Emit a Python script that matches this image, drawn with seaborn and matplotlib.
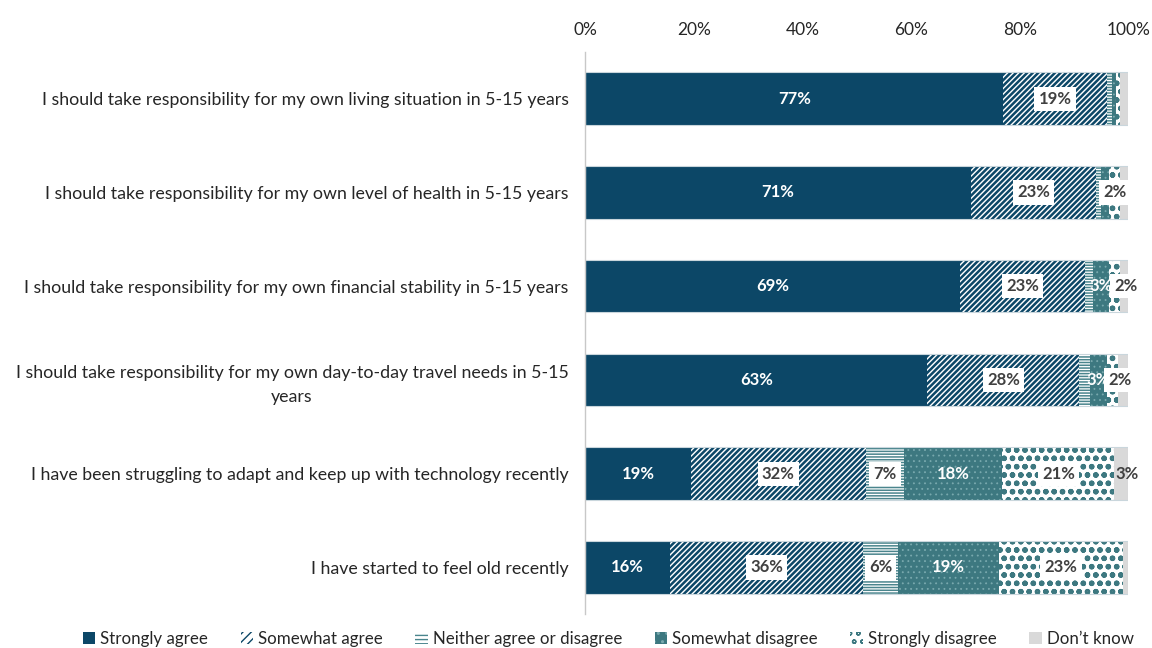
import matplotlib
matplotlib.use("Agg")
import matplotlib.pyplot as plt
import matplotlib.ticker as mticker
from matplotlib.patches import Patch
import numpy as np
import pandas as pd
import seaborn as sns

# ---- data -------------------------------------------------------------
statements = [
    "I should take responsibility for my own living situation in 5-15 years",
    "I should take responsibility for my own level of health in 5-15 years",
    "I should take responsibility for my own financial stability in 5-15 years",
    "I should take responsibility for my own day-to-day travel needs in 5-15\nyears",
    "I have been struggling to adapt and keep up with technology recently",
    "I have started to feel old recently",
]
responses = ["Strongly agree", "Somewhat agree", "Neither agree or disagree",
             "Somewhat disagree", "Strongly disagree", "Don\u2019t know"]

strongly_agree    = [77.0, 71.0, 69.0, 63.0, 19.4, 15.6]
somewhat_agree    = [19.0, 23.0, 23.0, 28.0, 32.3, 35.6]
neither           = [1.0, 1.0, 1.5, 2.0, 6.9, 6.3]
somewhat_disagree = [0.7, 1.5, 3.0, 3.0, 18.2, 18.6]
strongly_disagree = [0.8, 2.0, 2.0, 2.0, 20.6, 23.0]
dont_know         = [1.5, 1.5, 1.5, 2.0, 2.6, 0.9]

# which segment values carry a label (row by row)
show_label = [
    [1, 1, 0, 0, 0, 0],
    [1, 1, 0, 0, 1, 0],
    [1, 1, 0, 1, 1, 0],
    [1, 1, 0, 1, 1, 0],
    [1, 1, 1, 1, 1, 1],
    [1, 1, 1, 1, 1, 0],
]

series = [strongly_agree, somewhat_agree, neither,
          somewhat_disagree, strongly_disagree, dont_know]

# ---- styling ----------------------------------------------------------
NAVY = "#0c4767"
TEAL = "#3d7880"
GRAY = "#d9d9d9"
TXT = "#404040"

styles = [
    dict(facecolor=NAVY, hatchcolor=NAVY, hatch=None, hlw=1.0),
    dict(facecolor="white", hatchcolor=NAVY, hatch="//////", hlw=1.8),
    dict(facecolor="white", hatchcolor="#4a858d", hatch="------", hlw=1.1),
    dict(facecolor=TEAL, hatchcolor="#79a9ae", hatch="...", hlw=0.6),
    dict(facecolor="white", hatchcolor=TEAL, hatch="oo", hlw=1.6),
    dict(facecolor=GRAY, hatchcolor=GRAY, hatch=None, hlw=1.0),
]
legend_hatch = [None, "////", "----", "..", "oo", None]
label_style = [
    dict(color="white", box=False),
    dict(color=TXT, box=True),
    dict(color=TXT, box=True),
    dict(color="white", box=False),
    dict(color=TXT, box=True),
    dict(color=TXT, box=False),
]
# small horizontal nudges for crowded labels: (row, segment) -> shift in %
nudges = {(2, 4): 2.0, (3, 4): 1.4, (4, 5): 1.0}

sns.set_theme(style="white")
plt.rcParams["font.family"] = ["Lato", "DejaVu Sans"]

fig = plt.figure(figsize=(11.52, 6.48), dpi=100)
ax = fig.add_axes([0.508, 0.052, 0.4715, 0.868])

vals = np.array(series)          # shape (segments, rows)
cum = np.cumsum(vals, axis=0)

# draw cumulative totals longest first, so every shorter bar sits on top
for k in range(len(series) - 1, -1, -1):
    df = pd.DataFrame({"statement": statements, "value": cum[k]})
    st = styles[k]
    with plt.rc_context({"hatch.linewidth": st["hlw"]}):
        sns.barplot(data=df, x="value", y="statement", order=statements,
                    orient="h", color=st["facecolor"], width=0.56,
                    saturation=1, ax=ax, errorbar=None)
        for p in ax.containers[-1]:
            p.set_facecolor(st["facecolor"])
            p.set_edgecolor(st["hatchcolor"])
            p.set_linewidth(0)
            if st["hatch"]:
                p.set_hatch(st["hatch"])
            if hasattr(p, "set_hatch_linewidth"):
                p.set_hatch_linewidth(st["hlw"])

# thin light outline around each full bar
for i in range(len(statements)):
    ax.barh(i, cum[-1][i], height=0.56, fill=False,
            edgecolor="#c9d6dc", linewidth=0.8, zorder=3)

# segment value labels
for i in range(len(statements)):
    for k in range(len(series)):
        if not show_label[i][k]:
            continue
        v = vals[k][i]
        xc = cum[k][i] - v / 2 + nudges.get((i, k), 0.0)
        ls = label_style[k]
        bbox = dict(boxstyle="square,pad=0.25", facecolor="white",
                    edgecolor="none") if ls["box"] else None
        ax.text(xc, i, f"{v:.0f}%", ha="center", va="center",
                fontsize=12, fontweight="bold", color=ls["color"],
                bbox=bbox, zorder=5)

ax.set_xlim(0, 100)
ax.set_ylim(len(statements) - 0.5, -0.5)
ax.xaxis.tick_top()
ax.xaxis.set_major_locator(mticker.MultipleLocator(20))
ax.xaxis.set_major_formatter(mticker.FuncFormatter(lambda x, _: f"{x:.0f}%"))
ax.tick_params(axis="x", length=0, pad=10, labelsize=12.5, labelcolor="#262626")
ax.tick_params(axis="y", length=0, pad=12, labelsize=12.8, labelcolor="#262626")
for lab in ax.get_yticklabels():
    lab.set_multialignment("center")
    lab.set_linespacing(1.55)
ax.set_xlabel("")
ax.set_ylabel("")
for side in ["top", "right", "bottom"]:
    ax.spines[side].set_visible(False)
ax.spines["left"].set_color("#c8c8c8")
ax.spines["left"].set_linewidth(1.0)
ax.spines["left"].set_zorder(6)

# legend
handles = []
for k, st in enumerate(styles):
    with plt.rc_context({"hatch.linewidth": min(st["hlw"], 1.3)}):
        h = Patch(facecolor=st["facecolor"], edgecolor=st["hatchcolor"],
                  hatch=legend_hatch[k], linewidth=0, label=responses[k])
    handles.append(h)
fig.legend(handles=handles, loc="lower center", bbox_to_anchor=(0.528, -0.022),
           ncol=6, frameon=False, fontsize=12.2, handlelength=0.75,
           handleheight=0.75, handletextpad=0.3, columnspacing=1.9,
           labelcolor="#262626")

fig.savefig("out.png", dpi=100)
